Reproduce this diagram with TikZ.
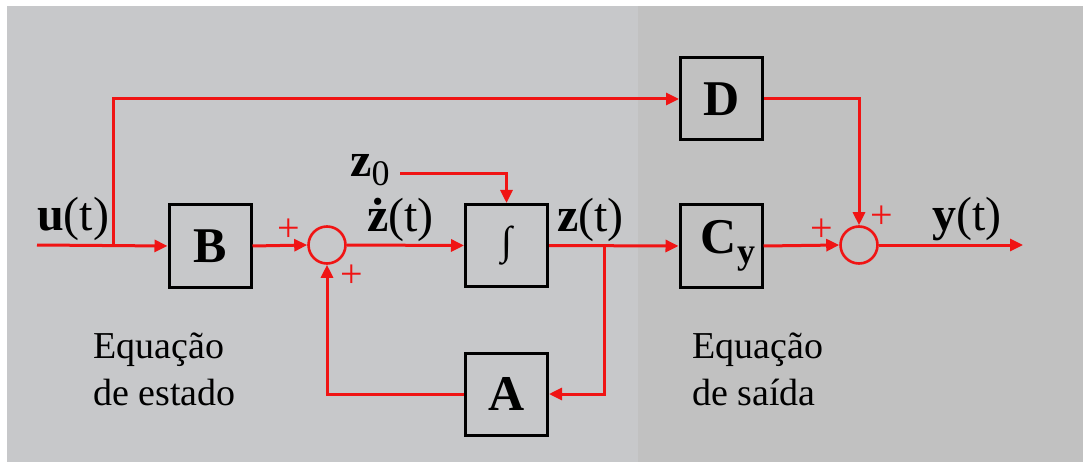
\documentclass[tikz,border=0pt]{standalone}
\usepackage{fontspec}
\setmainfont{Liberation Serif}
\usetikzlibrary{arrows.meta}
\definecolor{bgleft}{RGB}{199,200,202}
\definecolor{bgright}{RGB}{193,193,193}
\definecolor{sigred}{RGB}{240,20,20}
\begin{document}
\begin{tikzpicture}[x=1pt,y=-1pt,
  sig/.style={draw=sigred,line width=3pt,-{Triangle[length=13pt,width=12pt]}},
  wire/.style={draw=sigred,line width=3pt},
  blockbox/.style={draw=black,line width=3pt,minimum size=82pt,inner sep=0pt,font=\fontsize{50}{50}\selectfont\bfseries},
  sumnode/.style={draw=sigred,line width=2.6pt,circle,minimum size=37pt,inner sep=0pt},
  siglabel/.style={anchor=base west,inner sep=0pt,font=\fontsize{48}{48}\selectfont},
  plussign/.style={inner sep=0pt,text=sigred,font=\fontsize{40}{40}\selectfont},
  eqtext/.style={anchor=base west,inner sep=0pt,align=left,font=\fontsize{38}{47}\selectfont}]
\useasboundingbox (0,0) rectangle (1083,462);
\fill[white] (0,0) rectangle (1083,462);
\fill[bgleft] (7,6) rectangle (638,462);
\fill[bgright] (638,6) rectangle (1083,462);
% blocks
\node[blockbox] (B) at (210,246) {B};
\node[blockbox] (I) at (506.5,245.5) {\fontsize{40}{40}\selectfont\mdseries ∫};
\node[blockbox] (A) at (506.5,394) {A};
\node[blockbox] (Cy) at (721,246) {\hspace{14pt}C\raisebox{-10pt}{\fontsize{36}{36}\selectfont y}};
\node[blockbox] (D) at (721.5,99) {D};
\node[sumnode] (s1) at (327,245) {};
\node[sumnode] (s2) at (859,245) {};
% coordinates
\coordinate (in) at (37,245);
\coordinate (b1) at (113,245);
\coordinate (z0s) at (400,174);
\coordinate (b2) at (604,245);
\coordinate (out) at (1023,245);
% connectors
\draw[sig] (in) -- (B.west);
\draw[sig] (b1) |- (D.west);
\draw[sig] (B.east) -- (s1.west);
\draw[sig] (s1.east) -- (I.west);
\draw[sig] (z0s) -| (I.north);
\draw[sig] (I.east) -- (Cy.west);
\draw[sig] (b2) |- (A.east);
\draw[sig] (A.west) -| (s1.south);
\draw[sig] (Cy.east) -- (s2.west);
\draw[sig] (D.east) -| (s2.north);
\draw[sig] (s2.east) -- (out);
% labels
\node[siglabel] (lu) at (37,230) {\textbf{u}(t)};
\node[siglabel] (lzd) at (367,232) {\textbf{ż}(t)};
\node[siglabel] (lz) at (557,232) {\textbf{z}(t)};
\node[siglabel] (lz0) at (350,177) {\textbf{z}\raisebox{-9pt}{\fontsize{36}{36}\selectfont 0}};
\node[siglabel] (ly) at (932,230) {\textbf{y}(t)};
\node[plussign] (p1) at (289,230) {+};
\node[plussign] (p2) at (352,276) {+};
\node[plussign] (p3) at (822,230) {+};
\node[plussign] (p4) at (882,217) {+};
\node[eqtext] (e1) at (93,405) {Equação\\de estado};
\node[eqtext] (e2) at (692,405) {Equação\\de saída};
\end{tikzpicture}
\end{document}
